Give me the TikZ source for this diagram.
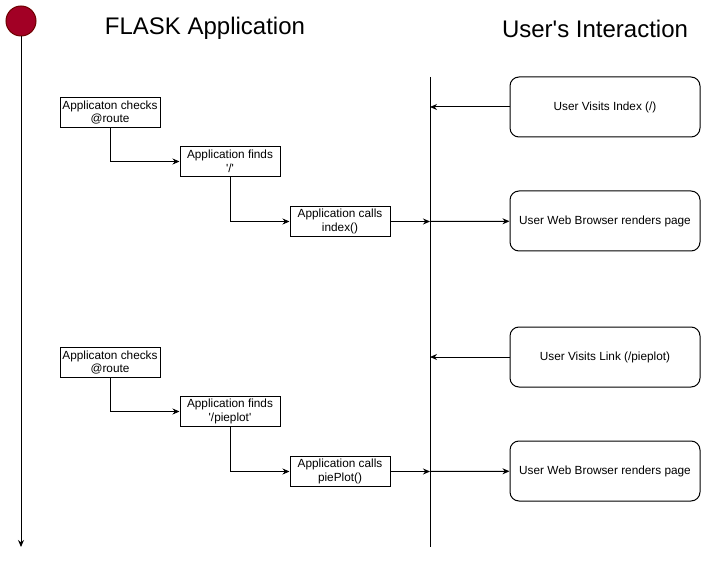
\documentclass[tikz,border=0pt]{standalone}
\usepackage{fontspec}
\setmainfont{Liberation Sans}
\usetikzlibrary{arrows.meta,positioning}
\definecolor{flaskred}{HTML}{A20025}
\definecolor{flaskdark}{HTML}{6F0000}

\begin{document}
\begin{tikzpicture}[x=1pt,y=-1pt,node distance=10pt,on grid,
  step box/.style={draw,line width=1pt,minimum width=100pt,minimum height=30pt,inner sep=1pt,align=center,font=\fontsize{11.8}{13.5}\selectfont},
  user box/.style={draw,line width=1pt,rounded corners=9pt,minimum width=190pt,minimum height=60pt,align=center,font=\fontsize{11.8}{13.5}\selectfont},
  title/.style={font=\fontsize{24}{28}\selectfont},
  conn/.style={line width=1pt,-{Stealth[length=7pt,width=6pt]}}]
\useasboundingbox (0,0) rectangle (725,569);
\node[circle,draw=flaskdark,fill=flaskred,line width=1pt,minimum size=30pt,inner sep=0pt] (start) at (21,21) {};
\coordinate (tl end) at (21,547);
\draw[conn] (start) -- (tl end);
\node[title] (flask) at (205,28.5) {FLASK Application};
\node[title] (user) at (595,28.5) {User\textquotesingle s Interaction};
\coordinate (ln top) at (430,77);
\coordinate (ln bot) at (430,547);
\draw[line width=1pt] (ln top) -- (ln bot);
% first request
\node[user box] (visit1) at (605,107) {User Visits Index (/)};
\node[step box] (check1) at (110,112.5) {Applicaton checks\\@route};
\node[step box] (find1) [below right=49pt and 120pt of check1] {Application finds\\\textquotesingle/\textquotesingle};
\node[step box] (call1) [below right=60pt and 110pt of find1] {Application calls\\index()};
\node[user box] (render1) at (605,221) {User Web Browser renders page};
\coordinate (in1) at (430,107);
\coordinate (out1) at (430,221.5);
% second request
\node[user box] (visit2) at (605,357) {User Visits Link (/pieplot)};
\node[step box] (check2) at (110,362.5) {Applicaton checks\\@route};
\node[step box] (find2) [below right=49pt and 120pt of check2] {Application finds\\\textquotesingle/pieplot\textquotesingle};
\node[step box] (call2) [below right=60pt and 110pt of find2] {Application calls\\piePlot()};
\node[user box] (render2) at (605,471) {User Web Browser renders page};
\coordinate (in2) at (430,357);
\coordinate (out2) at (430,471.5);
\draw[conn] (visit1) -- (in1);
\draw[conn] (check1) |- (find1);
\draw[conn] (find1) |- (call1);
\draw[conn] (call1) -- (out1);
\draw[conn] (out1) -- (render1);
\draw[conn] (visit2) -- (in2);
\draw[conn] (check2) |- (find2);
\draw[conn] (find2) |- (call2);
\draw[conn] (call2) -- (out2);
\draw[conn] (out2) -- (render2);
\end{tikzpicture}
\end{document}
